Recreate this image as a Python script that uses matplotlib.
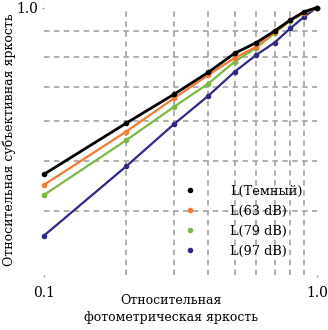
import matplotlib
matplotlib.use("Agg")
import matplotlib.pyplot as plt
from matplotlib.ticker import FixedLocator, NullFormatter, FixedFormatter

# Relative photometric luminance (x) and perceived brightness for each surround level
luminance = [0.1, 0.2, 0.3, 0.4, 0.5, 0.6, 0.7, 0.8, 0.9, 1.0]
dark = [0.472, 0.594, 0.677, 0.747, 0.814, 0.854, 0.900, 0.946, 0.982, 1.0]
db63 = [0.450, 0.572, 0.665, 0.738, 0.797, 0.838, 0.895, 0.944, 0.977, 1.0]
db79 = [0.430, 0.550, 0.640, 0.710, 0.784, 0.835, 0.891, 0.943, 0.976, 1.0]
db97 = [0.358, 0.489, 0.592, 0.672, 0.749, 0.808, 0.854, 0.911, 0.960, 1.0]

labels = ["L(Темный)", "L(63 dB)", "L(79 dB)", "L(97 dB)"]
series = [dark, db63, db79, db97]
colors = ["#000000", "#f47b2f", "#79b944", "#2e2a86"]
widths = [2.0, 1.6, 1.6, 1.6]
layers = [6, 5, 4, 3]

x_ticks = [0.1, 1.0]
x_tick_labels = ["0.1", "1.0"]
x_minor = [0.2, 0.3, 0.4, 0.5, 0.6, 0.7, 0.8, 0.9]
y_ticks = [1.0]
y_tick_labels = ["1.0"]
y_minor = [0.4, 0.5, 0.6, 0.7, 0.8, 0.9]

plt.rcParams["font.family"] = ["DejaVu Serif"]

fig = plt.figure(figsize=(3.28, 3.30), dpi=100)
ax = fig.add_axes([0.134, 0.167, 0.832, 0.810])

for ys, c, lw, z in zip(series, colors, widths, layers):
    ax.plot(luminance, ys, color=c, lw=lw, marker="o", ms=3.0, zorder=z,
            clip_on=False)

ax.set_xscale("log")
ax.set_yscale("log")
ax.set_xlim(0.1, 1.0)
ax.set_ylim(0.3, 1.0)

ax.xaxis.set_major_locator(FixedLocator(x_ticks))
ax.xaxis.set_major_formatter(FixedFormatter(x_tick_labels))
ax.xaxis.set_minor_locator(FixedLocator(x_minor))
ax.xaxis.set_minor_formatter(NullFormatter())
ax.yaxis.set_major_locator(FixedLocator(y_ticks))
ax.yaxis.set_major_formatter(FixedFormatter(y_tick_labels))
ax.yaxis.set_minor_locator(FixedLocator(y_minor))
ax.yaxis.set_minor_formatter(NullFormatter())

ax.grid(which="minor", color="#a8a8a8", linestyle=(0, (3, 2.5)), linewidth=1.3)
ax.grid(which="major", visible=False)
ax.tick_params(which="major", length=1.2, width=1, color="#999999", labelsize=10)
ax.tick_params(axis="x", which="major", pad=7)
ax.tick_params(axis="y", which="major", pad=3)
ax.tick_params(which="minor", length=0)
for s in ax.spines.values():
    s.set_visible(False)

fig.text(171 / 328, 1 - 309 / 330, "Относительная\nфотометрическая яркость",
         fontsize=9, ha="center", va="center", linespacing=1.3)
fig.text(9 / 328, 1 - 140 / 330, "Относительная субъективная яркость",
         fontsize=9, ha="center", va="center", rotation=90)

handles = [plt.Line2D([], [], color=c, marker="o", ms=3.0, linestyle="none")
           for c in colors]
ax.legend(handles, labels, loc="lower right", bbox_to_anchor=(0.99, 0.02),
          frameon=False, fontsize=9.3, handletextpad=2.6, labelspacing=0.55,
          handlelength=1.0)

fig.savefig("out.png", dpi=100)
